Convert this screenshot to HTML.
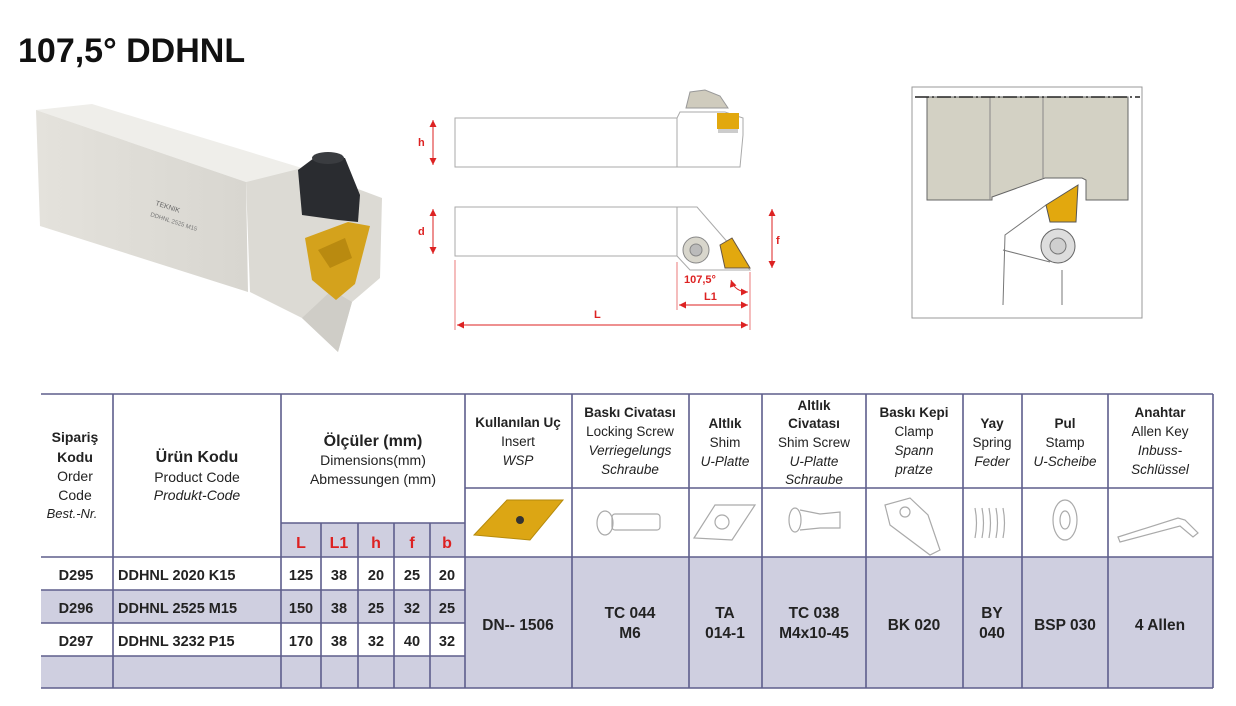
<!DOCTYPE html>
<html><head><meta charset="utf-8"><style>
html,body{margin:0;padding:0;background:#fff;width:1236px;height:706px;overflow:hidden}
svg{display:block}
text{font-family:"Liberation Sans","DejaVu Sans",sans-serif}
</style></head><body>
<svg width="1236" height="706" viewBox="0 0 1236 706" xmlns="http://www.w3.org/2000/svg">
<defs>
<linearGradient id="bodyg" x1="0" y1="0" x2="1" y2="0"><stop offset="0" stop-color="#e4e2dc"/><stop offset="1" stop-color="#d8d6d0"/></linearGradient>
<marker id="ar" viewBox="0 0 10 10" refX="10" refY="5" markerWidth="7" markerHeight="7" orient="auto-start-reverse"><path d="M0,0L10,5L0,10z" fill="#d22"/></marker>
</defs>
<text x="18" y="62" font-size="34" font-weight="bold" fill="#111">107,5° DDHNL</text>

<!-- photo -->
<polygon points="36,110 92,104 302,168 246,182" fill="#efeeea"/>
<polygon points="36,110 246,182 248,292 40,226" fill="url(#bodyg)"/>
<polygon points="246,182 302,168 382,198 380,278 352,302 338,352 302,318 250,292" fill="#dcdad4"/>
<polygon points="302,318 338,352 352,302 332,290" fill="#cfcdc7"/>
<polygon points="298,170 318,155 345,158 360,195 358,222 338,220 302,215" fill="#2a2c30"/>
<ellipse cx="328" cy="158" rx="16" ry="6" fill="#3a3c40"/>
<polygon points="305,238 348,222 370,226 355,284 336,300 312,280" fill="#d4a21c"/>
<polygon points="318,250 345,238 352,258 330,268" fill="#b98a10"/>
<text x="155" y="205" font-size="7" fill="#666" transform="rotate(18 155 205)">TEKNIK</text>
<text x="150" y="216" font-size="6" fill="#777" transform="rotate(18 150 216)">DDHNL 2525 M15</text>

<!-- drawing top -->
<g stroke="#aaa" fill="none" stroke-width="1">
<rect x="455" y="118" width="222" height="49"/>
<path d="M677,118 L680,112 L725,112 L743,118 L743,135 L740,167 L677,167"/>
<rect x="455" y="207" width="222" height="49"/>
<path d="M677,207 L697,207 L730,245 L750,270 L690,270 L677,256"/>
</g>
<path d="M686,108 L690,92 L705,90 L720,96 L728,108 Z" fill="#cfcbbd" stroke="#999"/>
<rect x="717" y="113" width="22" height="16" fill="#e2a80e"/>
<rect x="718" y="129" width="20" height="4" fill="#ccc"/>
<circle cx="696" cy="250" r="13" fill="#d8d6cc" stroke="#888"/>
<circle cx="696" cy="250" r="6" fill="#bbb" stroke="#888"/>
<polygon points="720,245 732,238 750,268 725,268" fill="#e2a80e" stroke="#654"/>
<g stroke="#d22" stroke-width="1" fill="none">
<line x1="433" y1="120" x2="433" y2="165" marker-start="url(#ar)" marker-end="url(#ar)"/>
<line x1="433" y1="209" x2="433" y2="254" marker-start="url(#ar)" marker-end="url(#ar)"/>
<line x1="772" y1="209" x2="772" y2="268" marker-start="url(#ar)" marker-end="url(#ar)"/>
<line x1="457" y1="325" x2="748" y2="325" marker-start="url(#ar)" marker-end="url(#ar)"/>
<line x1="679" y1="305" x2="748" y2="305" marker-start="url(#ar)" marker-end="url(#ar)"/>
<line x1="455" y1="260" x2="455" y2="330" stroke-width=".6"/>
<line x1="750" y1="272" x2="750" y2="330" stroke-width=".6"/>
<line x1="677" y1="262" x2="677" y2="310" stroke-width=".6"/>
<path d="M731,280 Q735,292 748,292" marker-start="url(#ar)" marker-end="url(#ar)"/>
</g>
<g fill="#d22" font-size="11" font-weight="bold">
<text x="418" y="146">h</text><text x="418" y="235">d</text><text x="776" y="244">f</text>
<text x="594" y="318">L</text><text x="704" y="300">L1</text><text x="684" y="283">107,5°</text>
</g>

<!-- drawing right -->
<rect x="912" y="87" width="230" height="231" fill="#fff" stroke="#999"/>
<path d="M927,97 L1128,97 L1128,200 L1086,200 L1086,180 L1082,178 L1045,178 L992,197 L992,200 L927,200 Z" fill="#d3d1c4" stroke="#666"/>
<line x1="990" y1="97" x2="990" y2="200" stroke="#888"/>
<line x1="1043" y1="97" x2="1043" y2="178" stroke="#888"/>
<line x1="915" y1="97" x2="1140" y2="97" stroke="#222" stroke-width="1.5" stroke-dasharray="14,3,2,3"/>
<path d="M1046,205 L1005,235 L1003,305 M1062,305 L1062,270 M1003,250 L1050,262" stroke="#777" fill="none"/>
<polygon points="1046,205 1078,185 1076,222 1050,222" fill="#e2a80e" stroke="#555"/>
<circle cx="1058" cy="246" r="17" fill="#ddd" stroke="#666"/>
<circle cx="1058" cy="246" r="8" fill="#cfcfcf" stroke="#777"/>

<!-- table -->
<g fill="#cfcfe0">
<rect x="41" y="590" width="424" height="33"/>
<rect x="41" y="656" width="424" height="32"/>
<rect x="281" y="523" width="184" height="34"/>
<rect x="465" y="557" width="748" height="131"/>
</g>
<g stroke="#5e5e8c" stroke-width="1.6" fill="none">
<line x1="41" y1="394" x2="1213" y2="394"/>
<line x1="41" y1="688" x2="1213" y2="688"/>
<line x1="465" y1="488" x2="1213" y2="488"/>
<line x1="281" y1="523" x2="465" y2="523"/>
<line x1="41" y1="557" x2="1213" y2="557"/>
<line x1="41" y1="590" x2="465" y2="590"/>
<line x1="41" y1="623" x2="465" y2="623"/>
<line x1="41" y1="656" x2="465" y2="656"/>
<line x1="113" y1="394" x2="113" y2="688"/>
<line x1="281" y1="394" x2="281" y2="688"/>
<line x1="321" y1="523" x2="321" y2="688"/>
<line x1="358" y1="523" x2="358" y2="688"/>
<line x1="394" y1="523" x2="394" y2="688"/>
<line x1="430" y1="523" x2="430" y2="688"/>
<line x1="465" y1="394" x2="465" y2="688"/>
<line x1="572" y1="394" x2="572" y2="688"/>
<line x1="689" y1="394" x2="689" y2="688"/>
<line x1="762" y1="394" x2="762" y2="688"/>
<line x1="866" y1="394" x2="866" y2="688"/>
<line x1="963" y1="394" x2="963" y2="688"/>
<line x1="1022" y1="394" x2="1022" y2="688"/>
<line x1="1108" y1="394" x2="1108" y2="688"/>
<line x1="1213" y1="394" x2="1213" y2="688"/>
</g>
<g text-anchor="middle" fill="#222" font-size="14">
<text x="75" y="442" font-weight="bold">Sipariş</text>
<text x="75" y="462" font-weight="bold">Kodu</text>
<text x="75" y="481">Order</text>
<text x="75" y="500">Code</text>
<text x="72" y="518" font-style="italic" font-size="13">Best.-Nr.</text>
<text x="197" y="462" font-weight="bold" font-size="16">Ürün Kodu</text>
<text x="197" y="482">Product Code</text>
<text x="197" y="500" font-style="italic">Produkt-Code</text>
<text x="373" y="446" font-weight="bold" font-size="16">Ölçüler (mm)</text>
<text x="373" y="465">Dimensions(mm)</text>
<text x="373" y="484">Abmessungen (mm)</text>
<g fill="#d22" font-weight="bold" font-size="16">
<text x="301" y="548">L</text><text x="339" y="548">L1</text><text x="376" y="548">h</text><text x="412" y="548">f</text><text x="447" y="548">b</text>
</g>
<g font-weight="bold" font-size="14.5">
<text x="76" y="580">D295</text><text x="76" y="613">D296</text><text x="76" y="646">D297</text>
<text x="301" y="580">125</text><text x="339" y="580">38</text><text x="376" y="580">20</text><text x="412" y="580">25</text><text x="447" y="580">20</text>
<text x="301" y="613">150</text><text x="339" y="613">38</text><text x="376" y="613">25</text><text x="412" y="613">32</text><text x="447" y="613">25</text>
<text x="301" y="646">170</text><text x="339" y="646">38</text><text x="376" y="646">32</text><text x="412" y="646">40</text><text x="447" y="646">32</text>
</g>
<g font-weight="bold" font-size="14.5" text-anchor="start">
<text x="118" y="580">DDHNL 2020 K15</text><text x="118" y="613">DDHNL 2525 M15</text><text x="118" y="646">DDHNL 3232 P15</text>
</g>
<g font-size="13.5">
<text x="518" y="427" font-weight="bold">Kullanılan Uç</text><text x="518" y="446">Insert</text><text x="518" y="465" font-style="italic">WSP</text>
<text x="630" y="417" font-weight="bold">Baskı Civatası</text><text x="630" y="436">Locking Screw</text><text x="630" y="455" font-style="italic">Verriegelungs</text><text x="630" y="474" font-style="italic">Schraube</text>
<text x="725" y="428" font-weight="bold">Altlık</text><text x="725" y="447">Shim</text><text x="725" y="466" font-style="italic">U-Platte</text>
<text x="814" y="410" font-weight="bold">Altlık</text><text x="814" y="428" font-weight="bold">Civatası</text><text x="814" y="447">Shim Screw</text><text x="814" y="466" font-style="italic">U-Platte</text><text x="814" y="484" font-style="italic">Schraube</text>
<text x="914" y="417" font-weight="bold">Baskı Kepi</text><text x="914" y="436">Clamp</text><text x="914" y="455" font-style="italic">Spann</text><text x="914" y="474" font-style="italic">pratze</text>
<text x="992" y="428" font-weight="bold">Yay</text><text x="992" y="447">Spring</text><text x="992" y="466" font-style="italic">Feder</text>
<text x="1065" y="428" font-weight="bold">Pul</text><text x="1065" y="447">Stamp</text><text x="1065" y="466" font-style="italic">U-Scheibe</text>
<text x="1160" y="417" font-weight="bold">Anahtar</text><text x="1160" y="436">Allen Key</text><text x="1160" y="455" font-style="italic">Inbuss-</text><text x="1160" y="474" font-style="italic">Schlüssel</text>
</g>
<g font-weight="bold" font-size="15.5">
<text x="518" y="630">DN-- 1506</text>
<text x="630" y="618">TC 044</text><text x="630" y="638">M6</text>
<text x="725" y="618">TA</text><text x="725" y="638">014-1</text>
<text x="814" y="618">TC 038</text><text x="814" y="638">M4x10-45</text>
<text x="914" y="630">BK 020</text>
<text x="992" y="618">BY</text><text x="992" y="638">040</text>
<text x="1065" y="630">BSP 030</text>
<text x="1160" y="630">4 Allen</text>
</g>
</g>
<!-- icons -->
<polygon points="474,535 507,500 563,500 530,540" fill="#dca614" stroke="#b58a0c"/>
<circle cx="520" cy="520" r="4" fill="#333"/>
<g stroke="#aaa" fill="none" stroke-width="1.2">
<ellipse cx="605" cy="523" rx="8" ry="12"/><rect x="612" y="514" width="48" height="16" rx="3"/>
<polygon points="694,538 715,505 755,505 732,540"/><circle cx="722" cy="522" r="7"/>
<ellipse cx="795" cy="520" rx="6" ry="12"/><path d="M800,510 L820,514 L840,512 L840,528 L820,528 L800,530"/>
<path d="M885,505 L910,498 L928,515 L940,550 L930,555 L890,525 Z"/><circle cx="905" cy="512" r="5"/>
<path d="M975,508 q3,15 0,30 M982,508 q3,15 0,30 M989,508 q3,15 0,30 M996,508 q3,15 0,30 M1003,508 q3,15 0,30"/>
<ellipse cx="1065" cy="520" rx="12" ry="20"/><ellipse cx="1065" cy="520" rx="5" ry="9"/>
<path d="M1118,537 L1178,518 L1185,520 L1198,533 L1193,537 L1180,526 L1120,542 Z"/>
</g>
</svg>
</body></html>
